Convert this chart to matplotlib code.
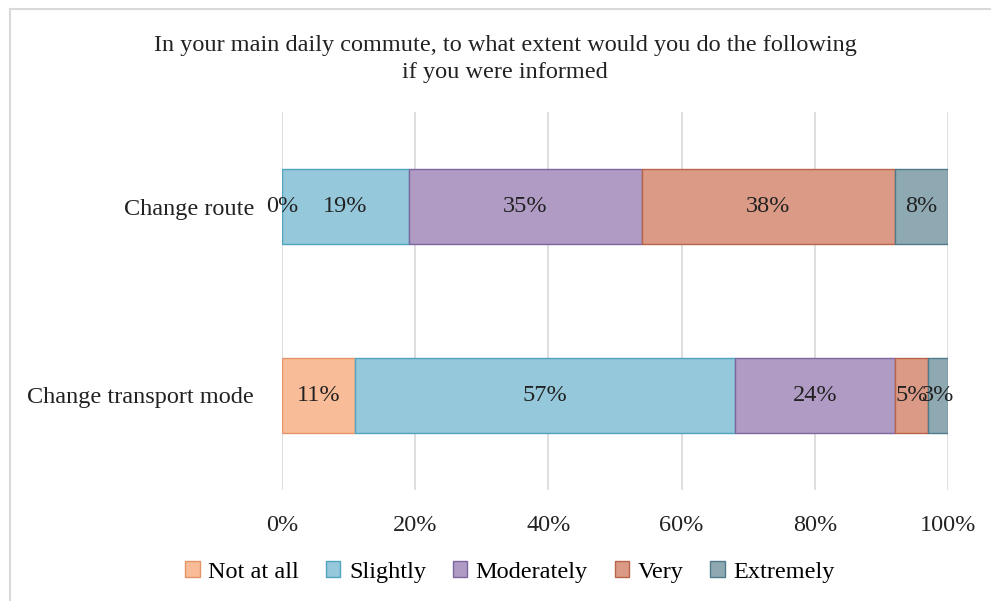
import matplotlib.pyplot as plt
from matplotlib.patches import Rectangle
from matplotlib.lines import Line2D

categories = ["Change transport mode", "Change route"]
levels = ["Not at all", "Slightly", "Moderately", "Very", "Extremely"]
not_at_all = [11, 0]
slightly = [57, 19]
moderately = [24, 35]
very = [5, 38]
extremely = [3, 8]
xtick_labels = ["0%", "20%", "40%", "60%", "80%", "100%"]

series = [not_at_all, slightly, moderately, very, extremely]
face_colors = ["#F8BC98", "#95C8DA", "#AF9BC4", "#DB9A85", "#8FA9B3"]
edge_colors = ["#E39468", "#4FA4BF", "#7E66A0", "#B8644A", "#4F7A88"]

plt.rcParams["font.family"] = ["Liberation Serif", "DejaVu Serif"]
FS = 17.5

fig = plt.figure(figsize=(9.91, 6.01), dpi=100)
fig.patch.set_facecolor("white")

# light frame around the chart
fig.add_artist(Line2D([10 / 991, 10 / 991], [0, 1 - 9 / 601],
                      transform=fig.transFigure, color="#D9D9D9", lw=1.5))
fig.add_artist(Line2D([10 / 991, 1], [1 - 9 / 601, 1 - 9 / 601],
                      transform=fig.transFigure, color="#D9D9D9", lw=1.5))

ax = fig.add_axes([282 / 991, 1 - 490 / 601, 666 / 991, 378 / 601])

ypos = list(range(len(categories)))
left = [0] * len(categories)
for vals, fc, ec in zip(series, face_colors, edge_colors):
    ax.barh(ypos, vals, left=left, height=0.4, color=fc,
            edgecolor=ec, linewidth=1.0, zorder=3)
    for i, (v, l) in enumerate(zip(vals, left)):
        ax.text(l + v / 2, ypos[i], f"{v}%", ha="center", va="center",
                fontsize=FS, color="#222222", zorder=4)
    left = [a + b for a, b in zip(left, vals)]

ax.set_xlim(0, 100)
ax.set_ylim(-0.5, 1.5)
ax.set_xticks([0, 20, 40, 60, 80, 100])
ax.set_xticklabels(xtick_labels, fontsize=FS, color="#222222")
ax.set_yticks(ypos)
ax.set_yticklabels(categories, fontsize=FS, color="#222222")
ax.tick_params(axis="both", length=0)
ax.tick_params(axis="y", pad=20)
ax.tick_params(axis="x", pad=18)
ax.grid(axis="x", color="#D9D9D9", linewidth=1.2, zorder=0)
for s in ax.spines.values():
    s.set_visible(False)

fig.text(505 / 991, 1 - 59 / 601,
         "In your main daily commute, to what extent would you do the following\nif you were informed",
         ha="center", va="center", fontsize=FS, color="#222222", linespacing=1.35)

handles = [Rectangle((0, 0), 1, 1, facecolor=fc, edgecolor=ec, lw=1.0)
           for fc, ec in zip(face_colors, edge_colors)]
fig.legend(handles, levels, loc="center", bbox_to_anchor=(510 / 991, 1 - 572 / 601),
           ncol=5, frameon=False, fontsize=FS, handlelength=0.6, handleheight=0.6,
           handletextpad=0.35, columnspacing=1.1)

fig.savefig("out.png", dpi=100, facecolor="white")
